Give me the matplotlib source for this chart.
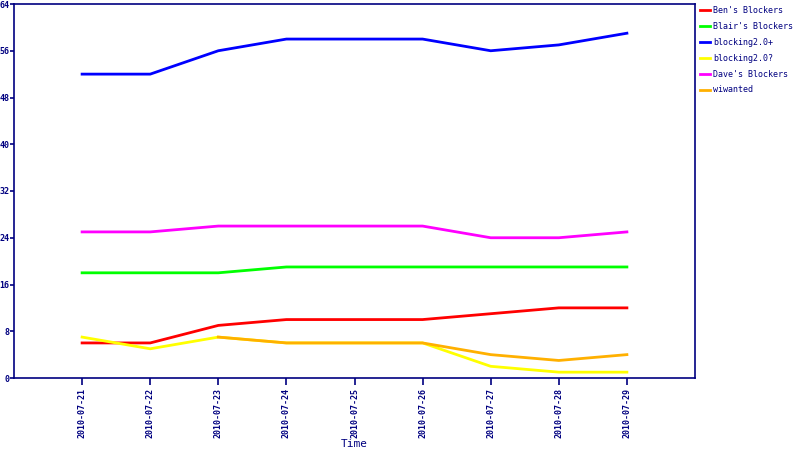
import numpy as np
import matplotlib
matplotlib.use('Agg')
import matplotlib.pyplot as plt

dates = ['2010-07-21', '2010-07-22', '2010-07-23', '2010-07-24', '2010-07-25',
         '2010-07-26', '2010-07-27', '2010-07-28', '2010-07-29']

bens = [6, 6, 9, 10, 10, 10, 11, 12, 12]
blairs = [18, 18, 18, 19, 19, 19, 19, 19, 19]
blocking_plus = [52, 52, 56, 58, 58, 58, 56, 57, 59]
blocking_q = [7, 5, 7, 6, 6, 6, 2, 1, 1]
daves = [25, 25, 26, 26, 26, 26, 24, 24, 25]
wiwanted = [np.nan, np.nan, 7, 6, 6, 6, 4, 3, 4]

names = ["Ben's Blockers", "Blair's Blockers", 'blocking2.0+', 'blocking2.0?',
         "Dave's Blockers", 'wiwanted']
series = [bens, blairs, blocking_plus, blocking_q, daves, wiwanted]
colors = ['#ff0000', '#00ff00', '#0000ff', '#ffff00', '#ff00ff', '#ffb000']

NAVY = '#000080'
plt.rcParams['font.family'] = 'DejaVu Sans Mono'

fig = plt.figure(figsize=(8, 4.5), dpi=100)
ax = fig.add_axes([14 / 800, 1 - 378 / 450, 681 / 800, 374 / 450])

x = np.arange(len(dates))
lines = []
for name, vals, c in zip(names, series, colors):
    ln, = ax.plot(x, vals, color=c, lw=2, label=name)
    lines.append(ln)

ax.set_xlim(-1, 9)
ax.set_ylim(0, 64)
ax.set_yticks(range(0, 65, 8))
ax.set_xticks(x)
ax.set_xticklabels(dates, rotation=90, fontsize=6, color=NAVY, fontweight='bold')
for t in ax.get_yticklabels():
    t.set_fontweight('bold')
ax.tick_params(axis='y', labelsize=6, labelcolor=NAVY, pad=0.5, length=3)
ax.tick_params(axis='x', length=5, pad=2)
ax.tick_params(colors=NAVY, width=1.2)
for s in ax.spines.values():
    s.set_color(NAVY)
    s.set_linewidth(1.2)
ax.set_xlabel('Time', color=NAVY, fontsize=8)
ax.xaxis.set_label_coords(0.5, -0.163)

leg = fig.legend(lines, names, loc='upper left', bbox_to_anchor=(697 / 800, 1 - 3 / 450),
                 frameon=False, fontsize=6, handlelength=1.2, handletextpad=0.3,
                 labelspacing=0.82, borderaxespad=0)
for t in leg.get_texts():
    t.set_color(NAVY)

fig.savefig('out.png', dpi=100)
